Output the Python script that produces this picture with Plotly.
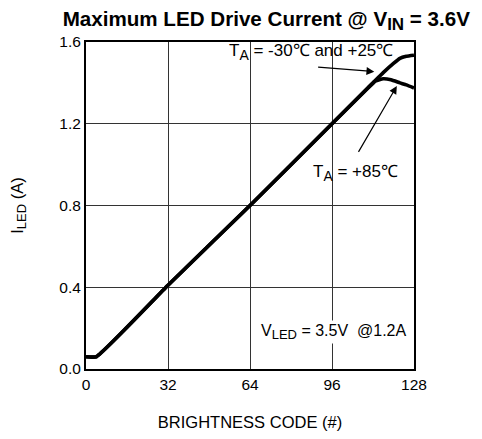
import plotly.graph_objects as go

codes_cold = [0, 4, 32, 64, 96, 112, 116, 120, 122.5, 125, 128]
iled_cold = [0.06, 0.06, 0.41, 0.80, 1.20, 1.40, 1.45, 1.495, 1.52, 1.53, 1.535]

codes_hot = [0, 4, 32, 64, 96, 110, 113, 116, 119, 122.5, 125, 128]
iled_hot = [0.06, 0.06, 0.41, 0.80, 1.20, 1.375, 1.41, 1.42, 1.415, 1.40, 1.39, 1.375]

x_ticks = [0, 32, 64, 96, 128]
y_ticks = [0.0, 0.4, 0.8, 1.2, 1.6]
y_tick_text = ["0.0", "0.4", "0.8", "1.2", "1.6"]

font = "Liberation Sans, Arial, sans-serif"


def sub(t, size):
    return "<sub><span style='font-size:%dpx'>%s</span></sub>" % (size, t)


fig = go.Figure()
fig.add_trace(go.Scatter(x=codes_hot, y=iled_hot, mode="lines",
                         line=dict(color="black", width=3.6, shape="spline", smoothing=0.4),
                         name="TA = +85C", showlegend=False))
fig.add_trace(go.Scatter(x=codes_cold, y=iled_cold, mode="lines",
                         line=dict(color="black", width=3.6, shape="spline", smoothing=0.4),
                         name="TA = -30C and +25C", showlegend=False))

fig.update_layout(
    width=474, height=431,
    margin=dict(l=78, r=68, t=34, b=70),
    paper_bgcolor="white", plot_bgcolor="white",
    font=dict(family=font, size=15, color="black"),
    title=dict(text="<b>Maximum LED Drive Current @ V" + sub("IN", 17) + " = 3.6V</b>",
               x=0.545, xanchor="center", y=0.975, yanchor="middle",
               font=dict(size=20.6, family=font, color="black")),
)
fig.update_xaxes(range=[0, 128], tickvals=x_ticks, ticktext=[str(v) for v in x_ticks],
                 showgrid=True, gridcolor="#333333", gridwidth=1,
                 showline=True, linecolor="black", linewidth=2, mirror=True,
                 zeroline=False, ticks="", tickfont=dict(size=15.5), automargin=False,
                 title=dict(text="BRIGHTNESS CODE (#)", font=dict(size=16.5), standoff=25))
fig.update_yaxes(range=[0, 1.6], tickvals=y_ticks, ticktext=y_tick_text,
                 showgrid=True, gridcolor="#333333", gridwidth=1,
                 showline=True, linecolor="black", linewidth=2, mirror=True,
                 zeroline=False, ticks="", tickfont=dict(size=15.5), automargin=False,
                 title=dict(text="I" + sub("LED", 13) + " (A)", font=dict(size=16.5), standoff=34))

fig.add_annotation(x=112.5, y=1.455, xref="x", yref="y", ax=90, ay=1.478, axref="x", ayref="y",
                   text="", showarrow=True, arrowhead=2, arrowsize=1.3, arrowwidth=1.2, arrowcolor="black")
fig.add_annotation(x=87.8, y=1.55, xref="x", yref="y",
                   text="T" + sub("A", 14) + " = -30\u2103 and +25\u2103", showarrow=False,
                   font=dict(size=17), xanchor="center", yanchor="middle")
fig.add_annotation(x=121.3, y=1.385, xref="x", yref="y", ax=106, ay=1.055, axref="x", ayref="y",
                   text="", showarrow=True, arrowhead=2, arrowsize=1.3, arrowwidth=1.2, arrowcolor="black")
fig.add_annotation(x=105, y=0.96, xref="x", yref="y",
                   text="T" + sub("A", 14) + " = +85\u2103", showarrow=False,
                   font=dict(size=17), xanchor="center", yanchor="middle")
fig.add_annotation(x=96.5, y=0.18, xref="x", yref="y",
                   text="V" + sub("LED", 13) + " = 3.5V  @1.2A", showarrow=False,
                   font=dict(size=16), xanchor="center", yanchor="middle", bgcolor="white")

fig.write_html("out.html")
